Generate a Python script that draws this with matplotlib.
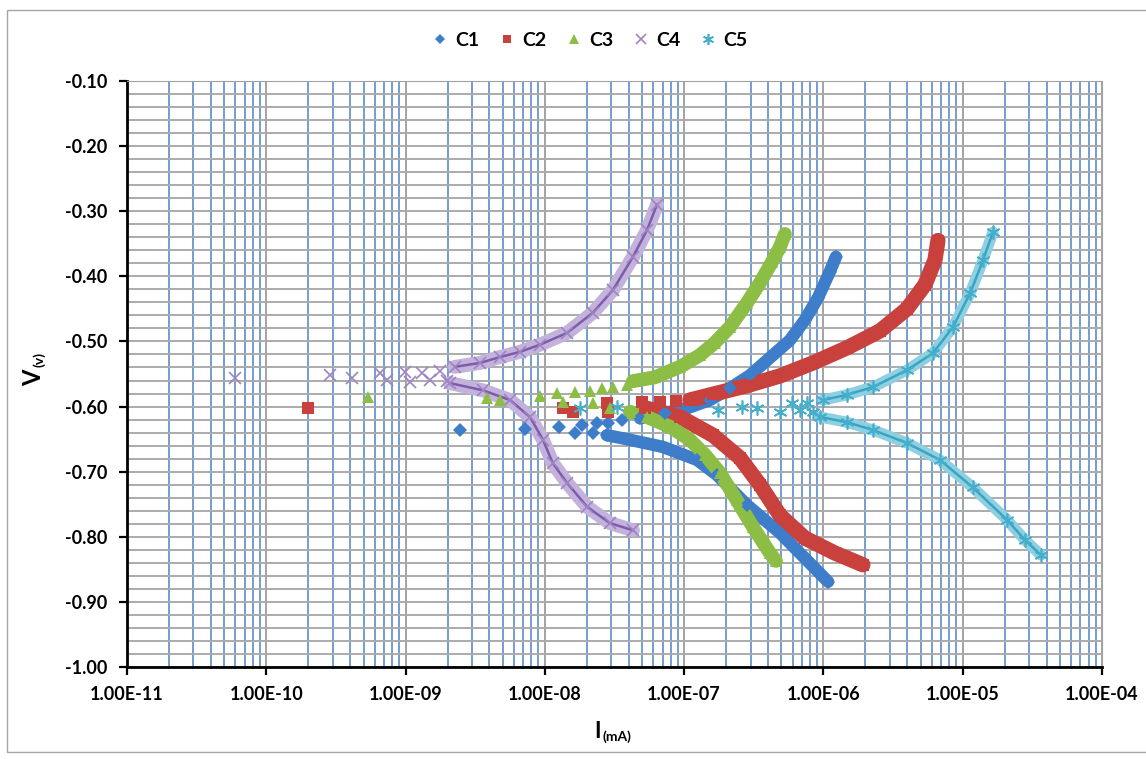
import numpy as np
import matplotlib.pyplot as plt
from matplotlib.patches import Rectangle
from matplotlib.ticker import FixedLocator, MultipleLocator, FuncFormatter, NullFormatter

plt.rcParams['font.family'] = ['Lato', 'DejaVu Sans']
plt.rcParams['axes.unicode_minus'] = False

# ---- Data (I in mA, V in volts) ----
# C1
c1_cath_i = [2.79e-8, 4.08e-8, 7.04e-8, 1.24e-7, 1.72e-7, 2.82e-7, 4.87e-7, 7.61e-7, 1.08e-6]
c1_cath_v = [-0.644, -0.651, -0.662, -0.682, -0.705, -0.751, -0.794, -0.836, -0.869]
c1_pts_i = [2.46e-9, 7.20e-9, 1.26e-8, 1.64e-8, 1.85e-8, 2.21e-8, 2.37e-8, 2.84e-8, 3.58e-8]
c1_pts_v = [-0.636, -0.634, -0.631, -0.641, -0.628, -0.641, -0.625, -0.625, -0.621]
c1_anod_i = [4.82e-8, 7.28e-8, 1.10e-7, 1.53e-7, 2.13e-7, 2.97e-7, 4.13e-7, 5.75e-7, 7.36e-7, 9.13e-7, 1.11e-6, 1.23e-6]
c1_anod_v = [-0.618, -0.610, -0.601, -0.590, -0.572, -0.552, -0.525, -0.498, -0.467, -0.433, -0.393, -0.370]

# C2
c2_cath_i = [5.23e-8, 9.33e-8, 1.61e-7, 2.52e-7, 3.50e-7, 4.87e-7, 7.36e-7, 1.21e-6, 1.92e-6]
c2_cath_v = [-0.602, -0.616, -0.644, -0.679, -0.720, -0.767, -0.802, -0.825, -0.843]
c2_pts_i = [2.0e-10, 1.35e-8, 1.59e-8, 2.79e-8, 2.84e-8, 4.98e-8, 6.70e-8, 8.73e-8]
c2_pts_v = [-0.602, -0.602, -0.608, -0.595, -0.608, -0.593, -0.593, -0.591]
c2_anod_i = [1.10e-7, 1.61e-7, 2.82e-7, 4.87e-7, 8.41e-7, 1.47e-6, 2.54e-6, 3.98e-6, 5.35e-6, 6.32e-6, 6.64e-6]
c2_anod_v = [-0.590, -0.581, -0.568, -0.553, -0.533, -0.510, -0.484, -0.450, -0.413, -0.375, -0.345]

# C3
c3_cath_i = [4.08e-8, 5.41e-8, 7.91e-8, 1.10e-7, 1.41e-7, 1.81e-7, 2.39e-7, 3.12e-7, 4.13e-7, 4.56e-7]
c3_cath_v = [-0.608, -0.616, -0.631, -0.651, -0.674, -0.702, -0.744, -0.785, -0.825, -0.837]
c3_pts_i = [5.37e-10, 3.84e-9, 4.76e-9, 9.22e-9, 1.22e-8, 1.35e-8, 1.64e-8, 2.11e-8, 2.21e-8, 2.57e-8, 2.93e-8, 3.08e-8, 3.89e-8]
c3_pts_v = [-0.585, -0.587, -0.590, -0.584, -0.579, -0.593, -0.578, -0.576, -0.595, -0.572, -0.602, -0.570, -0.567]
c3_anod_i = [4.29e-8, 6.17e-8, 9.33e-8, 1.30e-7, 1.66e-7, 2.13e-7, 2.82e-7, 3.50e-7, 4.27e-7, 4.87e-7, 5.29e-7]
c3_anod_v = [-0.561, -0.555, -0.539, -0.521, -0.502, -0.478, -0.441, -0.410, -0.378, -0.355, -0.335]

# C4
c4_cath_i = [2.08e-9, 3.59e-9, 5.62e-9, 7.82e-9, 9.69e-9, 1.14e-8, 1.44e-8, 2.01e-8, 2.93e-8, 4.29e-8]
c4_cath_v = [-0.564, -0.575, -0.590, -0.616, -0.651, -0.687, -0.717, -0.754, -0.779, -0.790]
c4_pts_i = [5.96e-11, 2.87e-10, 4.12e-10, 6.55e-10, 7.35e-10, 9.90e-10, 1.08e-9, 1.31e-9, 1.50e-9, 1.77e-9, 1.98e-9]
c4_pts_v = [-0.556, -0.552, -0.556, -0.548, -0.559, -0.547, -0.562, -0.548, -0.559, -0.545, -0.561]
c4_anod_i = [2.26e-9, 3.42e-9, 4.76e-9, 6.62e-9, 9.22e-9, 1.44e-8, 2.21e-8, 3.08e-8, 4.29e-8, 5.41e-8, 6.38e-8]
c4_anod_v = [-0.539, -0.533, -0.524, -0.516, -0.505, -0.487, -0.456, -0.421, -0.370, -0.329, -0.290]

# C5
c5_cath_i = [9.44e-7, 1.47e-6, 2.27e-6, 3.98e-6, 6.86e-6, 1.18e-5, 2.08e-5, 2.80e-5, 3.64e-5]
c5_cath_v = [-0.616, -0.624, -0.636, -0.656, -0.682, -0.724, -0.774, -0.805, -0.828]
c5_pts_i = [1.79e-8, 3.29e-8, 1.75e-7, 2.60e-7, 3.33e-7, 4.87e-7, 5.94e-7, 6.78e-7, 7.61e-7, 8.41e-7]
c5_pts_v = [-0.602, -0.601, -0.605, -0.601, -0.602, -0.608, -0.595, -0.605, -0.595, -0.608]
c5_anod_i = [9.92e-7, 1.47e-6, 2.27e-6, 3.98e-6, 6.11e-6, 8.50e-6, 1.13e-5, 1.40e-5, 1.65e-5]
c5_anod_v = [-0.590, -0.582, -0.570, -0.544, -0.518, -0.478, -0.426, -0.375, -0.332]

names = ['C1', 'C2', 'C3', 'C4', 'C5']
x_decades = [1e-11, 1e-10, 1e-9, 1e-8, 1e-7, 1e-6, 1e-5, 1e-4]

# Style for each series
styles = [
    dict(color='#3E7DC9', band='#3E7DC9', lw=9, center=None, marker='D', ms=7, mew=0),
    dict(color='#C8413D', band='#C8413D', lw=11, center=None, marker='s', ms=8, mew=0),
    dict(color='#8CBE45', band='#8CBE45', lw=10, center=None, marker='^', ms=9, mew=0),
    dict(color='#9D84C2', band='#C3B2DC', lw=10, center='#7D5CA9', marker='x', ms=9, mew=1.2),
    dict(color='#45AECB', band='#8ECFE2', lw=8, center='#3AA5C3', marker=(6, 2, 0), ms=10, mew=1.2),
]

branches = [
    (c1_cath_i, c1_cath_v, c1_pts_i, c1_pts_v, c1_anod_i, c1_anod_v),
    (c2_cath_i, c2_cath_v, c2_pts_i, c2_pts_v, c2_anod_i, c2_anod_v),
    (c3_cath_i, c3_cath_v, c3_pts_i, c3_pts_v, c3_anod_i, c3_anod_v),
    (c4_cath_i, c4_cath_v, c4_pts_i, c4_pts_v, c4_anod_i, c4_anod_v),
    (c5_cath_i, c5_cath_v, c5_pts_i, c5_pts_v, c5_anod_i, c5_anod_v),
]

fig = plt.figure(figsize=(11.46, 7.59), dpi=100)
ax = fig.add_axes([127 / 1146, 1 - 667 / 759, (1102 - 127) / 1146, (667 - 81) / 759])

# Plots each series: dense branches as bands, sparse points near Ecorr as markers
handles = []
for k in range(5):
    st = styles[k]
    ci, cv, pi, pv, ai, av = branches[k]
    for bi, bv in [(ci, cv), (ai, av)]:
        ax.plot(bi, bv, color=st['band'], lw=st['lw'], solid_capstyle='round',
                solid_joinstyle='round', zorder=3)
        if st['center'] is not None:
            ax.plot(bi, bv, color=st['center'], lw=1.8, zorder=4)
        ax.plot(bi, bv, ls='none', marker=st['marker'], ms=st['ms'], color=st['color'],
                mew=st['mew'], zorder=4)
    h, = ax.plot(pi, pv, ls='none', marker=st['marker'], ms=st['ms'], color=st['color'],
                 mew=st['mew'], zorder=5, label=names[k])
    handles.append(h)

# Axes scales and limits
ax.set_xscale('log')
ax.set_xlim(1e-11, 1e-4)
ax.set_ylim(-1.0, -0.1)

minor_x = [m * d for d in x_decades[:-1] for m in range(2, 10)]
ax.xaxis.set_major_locator(FixedLocator(x_decades))
ax.xaxis.set_minor_locator(FixedLocator(minor_x))
ax.xaxis.set_major_formatter(FuncFormatter(lambda v, p: f"{v:.2E}"))
ax.xaxis.set_minor_formatter(NullFormatter())
ax.yaxis.set_major_locator(MultipleLocator(0.1))
ax.yaxis.set_minor_locator(MultipleLocator(0.02))
ax.yaxis.set_major_formatter(FuncFormatter(lambda v, p: f"{v:.2f}"))

# Gridlines
ax.set_axisbelow(True)
ax.grid(which='minor', axis='x', color='#5B8DCB', lw=1.2)
ax.grid(which='major', axis='x', color='#A3A3A3', lw=1.4)
ax.grid(which='both', axis='y', color='#ABABAB', lw=1.4)

# Ticks and spines
ax.tick_params(which='major', direction='out', length=6, width=1.6, color='black',
               labelsize=13, pad=8)
ax.tick_params(which='minor', length=0)
for lab in ax.get_xticklabels() + ax.get_yticklabels():
    lab.set_fontweight('bold')
ax.spines['left'].set_linewidth(2)
ax.spines['bottom'].set_linewidth(2)
ax.spines['top'].set_color('#A3A3A3')
ax.spines['right'].set_color('#A3A3A3')

# Axis labels: main letter plus smaller subscript
fig.text(34 / 1146, 1 - 378 / 759, 'V', rotation=90, ha='center', va='center',
         fontsize=17, fontweight='bold')
fig.text(39 / 1146, 1 - 359 / 759, '(v)', rotation=90, ha='center', va='center',
         fontsize=10, fontweight='bold')
fig.text(597 / 1146, 1 - 731 / 759, 'I', ha='center', va='center',
         fontsize=16, fontweight='bold')
fig.text(617 / 1146, 1 - 737 / 759, '(mA)', ha='center', va='center',
         fontsize=10, fontweight='bold')

# Legend at the top
leg = fig.legend(handles=handles, loc='center', bbox_to_anchor=(590 / 1146, 1 - 40 / 759),
                 ncol=5, frameon=False, handlelength=0.8, handletextpad=0.4,
                 columnspacing=1.0, markerscale=0.8, fontsize=14)
for t in leg.get_texts():
    t.set_fontweight('bold')

# Chart border
fig.patches.append(Rectangle((7 / 1146, 1 - 752 / 759), 1.2, 742 / 759,
                             transform=fig.transFigure, fill=False, ec='#A6A6A6', lw=1))

plt.savefig('out.png', dpi=100)
plt.close()
